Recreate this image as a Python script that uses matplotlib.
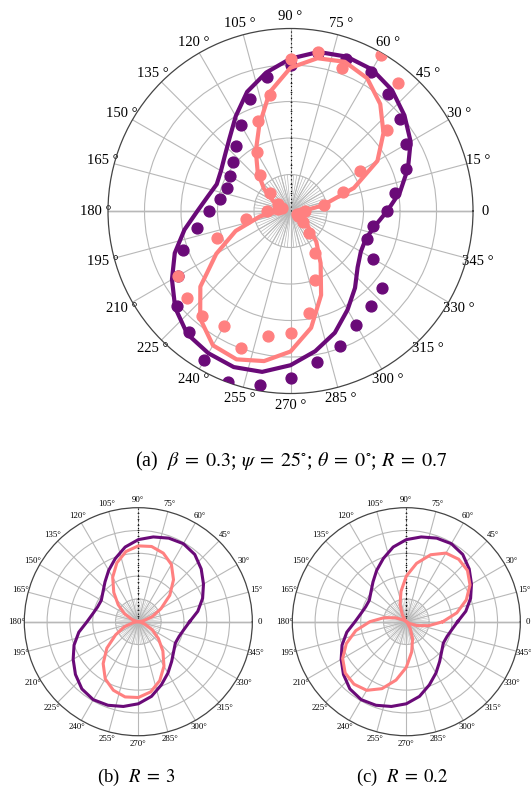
import numpy as np
import matplotlib
matplotlib.use('Agg')
import matplotlib.pyplot as plt
from matplotlib.ticker import MultipleLocator

plt.rcParams['font.family'] = ['Liberation Serif', 'DejaVu Serif']
plt.rcParams['mathtext.fontset'] = 'stix'

# ---------------- data ----------------
angles_deg = list(range(0, 360, 10))

# (a) beta=0.3, psi=25, theta=0, R=0.7
top_purple_line = [.53, .61, .685, .76, .815, .865, .895, .90, .885, .835, .77, .695,
                   .60, .52, .47, .44, .43, .46, .51, .59, .675, .75, .825, .88,
                   .90, .91, .895, .845, .78, .71, .625, .55, .48, .445, .44, .47]
top_pink_line = [.07, .18, .37, .55, .665, .765, .84, .87, .85, .785, .66, .50,
                 .38, .28, .19, .11, .06, .04, .06, .17, .32, .47, .645, .77,
                 .85, .865, .835, .77, .65, .49, .33, .22, .12, .06, .03, .03]
top_purple_dots = [.527, .581, .672, .729, .784, .834, .88, .887, .88, .80, .743, .651,
                   .546, .465, .414, .38, .37, .39, .447, .523, .628, .712, .811, .864,
                   .944, .995, .969, .917, .838, .786, .72, .682, .655, .523, .444, .461]
top_pink_dots = [.08, .186, .308, .442, .687, .915, .99, .832, .882, .833, .646, .523,
                 .371, .258, .15, .08, .05, .07, .13, .25, .431, .712, .743, .751,
                 .725, .80, .696, .67, .569, .40, .263, .156, .09, .05, .04, .06]

# (b) R=3
purple_R3 = [.45, .53, .60, .66, .72, .77, .79, .78, .755, .72, .665, .59,
             .52, .455, .405, .375, .38, .405, .45, .53, .60, .66, .72, .77,
             .79, .78, .755, .72, .665, .59, .52, .455, .405, .375, .38, .405]
pink_R3 = [.005, .045, .13, .23, .36, .48, .58, .64, .67, .665, .625, .55,
           .45, .335, .23, .14, .06, .015, .005, .045, .13, .23, .36, .48,
           .58, .64, .67, .665, .625, .55, .45, .335, .23, .14, .06, .015]

# (c) R=0.2
purple_R02 = [.45, .53, .60, .66, .72, .77, .79, .78, .755, .72, .665, .59,
              .52, .455, .405, .375, .38, .405, .45, .53, .60, .66, .72, .77,
              .79, .78, .755, .72, .665, .59, .52, .455, .405, .375, .38, .405]
pink_R02 = [.32, .45, .56, .645, .70, .715, .695, .625, .52, .40, .27, .16,
            .07, .015, .0, .03, .10, .20, .32, .45, .56, .645, .70, .715,
            .695, .625, .52, .40, .27, .16, .07, .015, .0, .03, .10, .20]

tick_angles = list(range(0, 360, 15))
captions = [r"(a)  $\beta\;=\;0.3$; $\psi\;=\;25^{\circ}$; $\theta\;=\;0^{\circ}$; $R\;=\;0.7$",
            r"(b)  $R\;=\;3$", r"(c)  $R\;=\;0.2$"]

PURPLE = '#6a0a78'
PINK = '#ff8080'
GRID = '#b8b8b8'


def closed(vals):
    th = np.deg2rad(angles_deg + [angles_deg[0] + 360])
    return th, list(vals) + [vals[0]]


def setup(ax, labels, fsize, pad, ticklen, star_lw):
    ax.set_ylim(0, 1)
    ax.set_thetagrids(tick_angles, labels, fontsize=fsize)
    ax.set_rgrids([0.2, 0.4, 0.6, 0.8], labels=[''] * 4)
    ax.grid(True, color=GRID, lw=0.8)
    ax.spines['polar'].set_color('#444444')
    ax.spines['polar'].set_linewidth(0.9)
    ax.xaxis.set_minor_locator(MultipleLocator(np.deg2rad(5)))
    ax.tick_params(axis='x', which='major', pad=pad, length=ticklen, width=0.7,
                   color='#444444', direction='out')
    ax.tick_params(axis='x', which='minor', length=ticklen * 0.6, width=0.6,
                   color='#444444', direction='out')
    ax.tick_params(axis='y', length=0)
    # inner starburst
    for a in range(0, 360, 5):
        ax.plot([np.deg2rad(a)] * 2, [0, 0.2], color=GRID, lw=star_lw, zorder=1)
    # darker horizontal axis
    ax.plot([0, 0], [0, 1], color='#555555', lw=0.9, zorder=1.5)
    ax.plot([np.pi, np.pi], [0, 1], color='#555555', lw=0.9, zorder=1.5)
    # dotted radial axis at 90 deg with small ticks
    ax.plot([np.pi / 2] * 2, [0, 1], color='k', ls=(0, (1, 2.5)), lw=0.8, zorder=1.6)
    rt = np.arange(0.05, 1.0, 0.05)
    ax.plot([np.pi / 2] * len(rt), rt, ls='none', marker='_', color='#222222',
            markersize=1.8, markeredgewidth=0.5, zorder=1.6)


fig = plt.figure(figsize=(5.31, 7.94), dpi=100)

# ---- top ----
axA = fig.add_axes([0.2034, 0.5044, 0.6874, 0.4597], projection='polar')
labA = ['0' if a == 0 else f'{a} °' for a in tick_angles]
setup(axA, labA, 10.5, -1.5, 3, 0.5)
th, r = closed(top_purple_line)
axA.plot(th, r, color=PURPLE, lw=3.0, zorder=3)
axA.plot(np.deg2rad(angles_deg), top_purple_dots, ls='none', marker='o',
         color=PURPLE, markersize=7.8, zorder=4)
th, r = closed(top_pink_line)
axA.plot(th, r, color=PINK, lw=3.0, zorder=5)
axA.plot(np.deg2rad(angles_deg), top_pink_dots, ls='none', marker='o',
         color=PINK, markersize=7.8, zorder=6)

# ---- bottom ----
labB = ['0' if a == 0 else f'{a}°' for a in tick_angles]
axB = fig.add_axes([0.0458, 0.0734, 0.4294, 0.2872], projection='polar')
setup(axB, labB, 6.3, -2.8, 1.5, 0.35)
th, r = closed(purple_R3)
axB.plot(th, r, color=PURPLE, lw=2.2, zorder=3)
th, r = closed(pink_R3)
axB.plot(th, r, color=PINK, lw=2.2, zorder=4)

axC = fig.add_axes([0.5505, 0.0734, 0.4294, 0.2872], projection='polar')
setup(axC, labB, 6.3, -2.8, 1.5, 0.35)
th, r = closed(purple_R02)
axC.plot(th, r, color=PURPLE, lw=2.2, zorder=3)
th, r = closed(pink_R02)
axC.plot(th, r, color=PINK, lw=2.2, zorder=4)

fig.text(0.549, 1 - 461 / 794, captions[0], ha='center', va='center', fontsize=14.5)
fig.text(0.257, 1 - 777 / 794, captions[1], ha='center', va='center', fontsize=13.5)
fig.text(0.757, 1 - 777 / 794, captions[2], ha='center', va='center', fontsize=13.5)

fig.savefig('out.png', dpi=100)
